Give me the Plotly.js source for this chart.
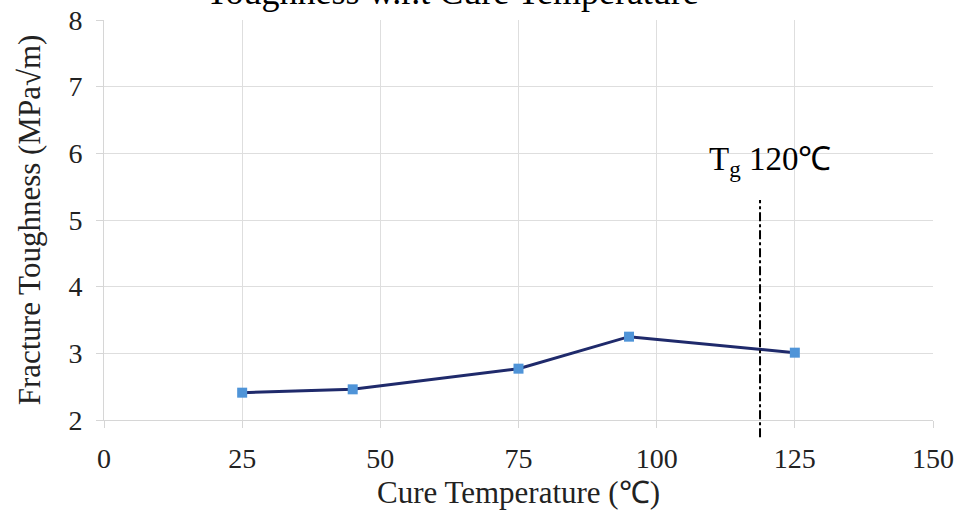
<!DOCTYPE html>
<html>
<head>
<meta charset="utf-8">
<script src="https://cdn.plot.ly/plotly-3.0.1.min.js"></script>
<style>html,body{margin:0;padding:0;background:#fff;}#chart{width:962px;height:517px;}</style>
</head>
<body>
<div id="chart"></div>
<script>
const cureTemp = [25, 45, 75, 95, 125];
const toughness = [2.41, 2.46, 2.77, 3.25, 3.01];
const xTicks = [0, 25, 50, 75, 100, 125, 150];
const yTicks = [2, 3, 4, 5, 6, 7, 8];
const tgX = 118.7;
const tgLabel = 'T<sub>g</sub> 120\u2103';
const titleText = 'Toughness w.r.t Cure Temperature';

const serif = 'Liberation Serif, Times New Roman, serif';

Plotly.newPlot('chart', [{
  x: cureTemp, y: toughness, type: 'scatter', mode: 'lines+markers',
  line: {color: '#1f2a6b', width: 3},
  marker: {symbol: 'square', size: 10, color: '#4f94d8'},
  showlegend: false
}], {
  width: 962, height: 517,
  margin: {l: 104, r: 29, t: 20, b: 97},
  paper_bgcolor: '#fff', plot_bgcolor: '#fff',
  font: {family: serif, color: '#222', size: 28},
  xaxis: {
    range: [0, 150], tickvals: xTicks, ticktext: xTicks.map(String),
    showgrid: true, gridcolor: '#dedede', gridwidth: 1,
    showline: true, linecolor: '#d6d6d6', linewidth: 1,
    ticks: 'outside', ticklen: 7, tickcolor: '#d6d6d6', ticklabelstandoff: 6,
    zeroline: false, tickfont: {size: 28, family: serif, color: '#222'},
    title: {text: 'Cure Temperature (\u2103)', font: {size: 31, family: serif, color: '#222'}, standoff: 8}
  },
  yaxis: {
    range: [2, 8], tickvals: yTicks, ticktext: yTicks.map(String),
    showgrid: true, gridcolor: '#dedede', gridwidth: 1,
    showline: true, linecolor: '#d6d6d6', linewidth: 1,
    ticks: 'outside', ticklen: 7, tickcolor: '#d6d6d6', ticklabelstandoff: 8,
    zeroline: false, tickfont: {size: 28, family: serif, color: '#222'},
    title: {text: 'Fracture Toughness (MPa\u221Am)', font: {size: 31, family: serif, color: '#222'}, standoff: 18}
  },
  shapes: [{
    type: 'line', xref: 'x', yref: 'paper', x0: tgX, x1: tgX, y0: -0.043, y1: 0.55,
    line: {color: '#000', width: 2, dash: 'dashdot'}
  }],
  annotations: [{
    text: tgLabel, xref: 'x', yref: 'paper', x: 120.5, y: 0.59, xanchor: 'center', yanchor: 'bottom',
    showarrow: false, font: {size: 33, family: serif, color: '#000'}
  }, {
    text: titleText, xref: 'paper', yref: 'paper', x: 0.42, y: 1.0, xanchor: 'center', yanchor: 'bottom',
    yshift: 6, showarrow: false, font: {size: 36, family: serif, color: '#000'}
  }]
}, {staticPlot: true});
</script>
</body>
</html>
